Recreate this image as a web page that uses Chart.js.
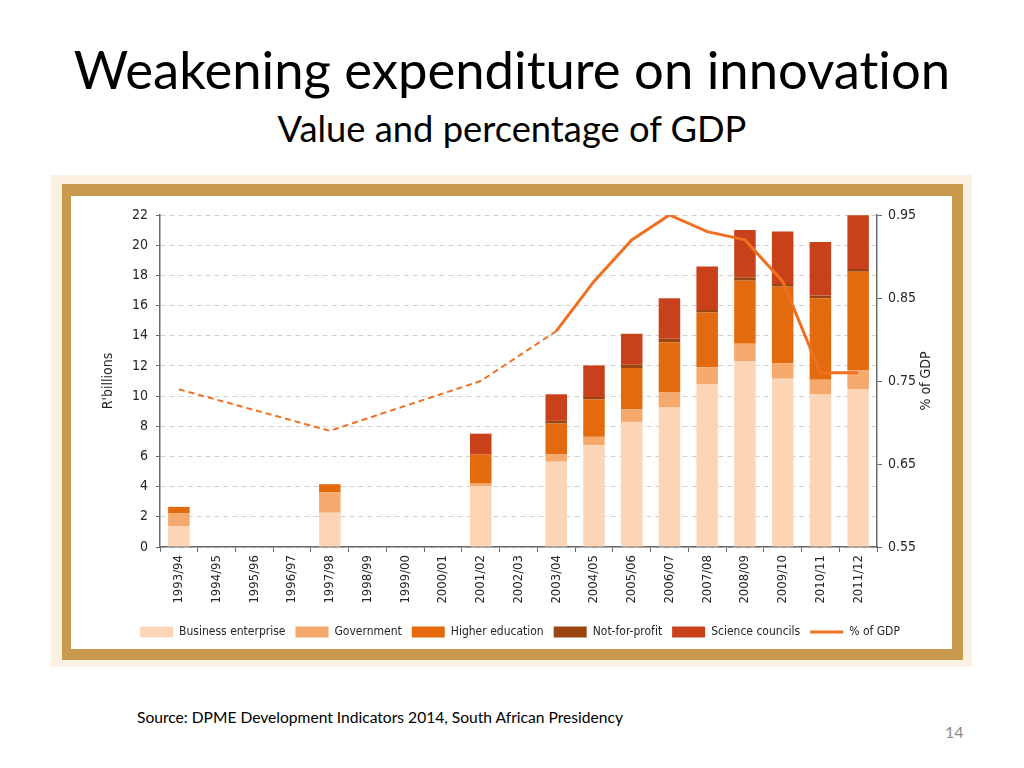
<!DOCTYPE html>
<html>
<head>
<meta charset="utf-8">
<script src="https://cdn.jsdelivr.net/npm/chart.js@4/dist/chart.umd.min.js"></script>
<style>
  body { margin: 0; width: 1024px; height: 768px; background: #fff; position: relative; overflow: hidden; font-family: Lato, 'Open Sans', sans-serif; color: #000; font-variant-ligatures: none; font-feature-settings: "liga" 0; }
  .txt { position: absolute; left: 0; width: 1024px; text-align: center; white-space: nowrap; }
  #title { top: 43px; font-size: 52.6px; line-height: 52.6px; }
  #subtitle { top: 110px; font-size: 36.3px; line-height: 36.3px; }
  #frame-out { position: absolute; left: 51px; top: 175px; width: 921px; height: 492px; background: #fcf0e3; }
  #frame-in { position: absolute; left: 62px; top: 184px; width: 901px; height: 476px; background: #c9994e; }
  #chart-box { position: absolute; left: 71px; top: 196px; width: 881px; height: 453px; background: #fff; }
  #source { position: absolute; left: 137px; top: 709px; font-size: 15.6px; line-height: 16px; white-space: nowrap; }
  #page { position: absolute; left: 945px; top: 724px; font-size: 16px; line-height: 16px; color: #8a8a8a; }
</style>
</head>
<body>
<div id="title" class="txt">Weakening expenditure on innovation</div>
<div id="subtitle" class="txt">Value and percentage of GDP</div>
<div id="frame-out"></div>
<div id="frame-in"></div>
<div id="chart-box"><canvas id="chart" width="881" height="453"></canvas></div>
<div id="source">Source: DPME Development Indicators 2014, South African Presidency</div>
<div id="page">14</div>

<script>
// 年份（財政年度）
const years = ['1993/94', '1994/95', '1995/96', '1996/97', '1997/98', '1998/99', '1999/00', '2000/01',
  '2001/02', '2002/03', '2003/04', '2004/05', '2005/06', '2006/07', '2007/08', '2008/09',
  '2009/10', '2010/11', '2011/12'];

// R'billions per sector
const business   = [1.39, null, null, null, 2.27, null, null, null, 4.03, null, 5.65, 6.75, 8.29, 9.24, 10.78, 12.32, 11.15, 10.10, 10.45];
const government = [0.83, null, null, null, 1.36, null, null, null, 0.17, null, 0.48, 0.55, 0.82, 0.99, 1.14, 1.15, 1.04, 0.99, 1.25];
const higherEd   = [0.44, null, null, null, 0.53, null, null, null, 1.92, null, 2.05, 2.49, 2.75, 3.34, 3.62, 4.18, 5.06, 5.39, 6.54];
const notForProfit = [0, null, null, null, 0, null, null, null, 0, null, 0.18, 0.15, 0.22, 0.23, 0.17, 0.22, 0.18, 0.18, 0.18];
const scienceCouncils = [0, null, null, null, 0, null, null, null, 1.39, null, 1.76, 2.09, 2.05, 2.68, 2.87, 3.13, 3.48, 3.55, 3.57];

// % of GDP
const pctGdp = [0.74, null, null, null, 0.69, null, null, null, 0.75, null, 0.81, 0.87, 0.92, 0.95, 0.93, 0.92, 0.87, 0.76, 0.76];
const pctTicks = [0.55, 0.65, 0.75, 0.85, 0.95];
const solidFrom = years.indexOf('2003/04'); // line is dashed before this year

const narrow = "'DejaVu Sans Condensed', 'DejaVu Sans', sans-serif";
const axisColor = '#6b6b6b';
Chart.defaults.font.family = narrow;
Chart.defaults.color = '#262626';

// 右側標題（由下往上讀）
const rightTitle = {
  id: 'rightTitle',
  afterDraw(chart) {
    const { ctx, chartArea } = chart;
    ctx.save();
    ctx.translate(chartArea.right + 49, (chartArea.top + chartArea.bottom) / 2);
    ctx.rotate(-Math.PI / 2);
    ctx.font = '14px ' + narrow;
    ctx.fillStyle = '#262626';
    ctx.textAlign = 'center';
    ctx.textBaseline = 'middle';
    ctx.fillText('% of GDP', 0, 0);
    ctx.restore();
  }
};

const bar = (label, data, color) => ({
  type: 'bar', label, data, backgroundColor: color, borderWidth: 0,
  yAxisID: 'y', stack: 'rd', order: 1, barPercentage: 0.57, categoryPercentage: 1
});

new Chart(document.getElementById('chart'), {
  data: {
    labels: years,
    datasets: [
      bar('Business enterprise', business, '#fcd5b6'),
      bar('Government', government, '#f6a96c'),
      bar('Higher education', higherEd, '#e36b0e'),
      bar('Not-for-profit', notForProfit, '#9a4512'),
      bar('Science councils', scienceCouncils, '#c9411a'),
      {
        type: 'line', label: '% of GDP', data: pctGdp, yAxisID: 'y1', order: 0,
        borderColor: '#f07021', backgroundColor: '#f07021', borderWidth: 3,
        pointRadius: 0, tension: 0, spanGaps: true,
        segment: {
          borderDash: c => c.p0DataIndex < solidFrom ? [6, 4] : undefined,
          borderWidth: c => c.p0DataIndex < solidFrom ? 2 : 3
        }
      }
    ]
  },
  options: {
    responsive: false,
    animation: false,
    layout: { padding: { left: 25, right: 8, top: 19, bottom: 1 } },
    plugins: {
      tooltip: { enabled: false },
      legend: {
        position: 'bottom',
        labels: {
          usePointStyle: true,
          pointStyleWidth: 33,
          boxHeight: 11,
          padding: 10,
          font: { size: 12 },
          color: '#262626',
          sort: (a, b) => a.datasetIndex - b.datasetIndex,
          generateLabels: chart => {
            const items = Chart.defaults.plugins.legend.labels.generateLabels(chart);
            items.forEach(it => {
              const ds = chart.data.datasets[it.datasetIndex];
              if (ds.type === 'line') {
                it.pointStyle = 'line';
                it.lineWidth = 3;
                it.strokeStyle = ds.borderColor;
                it.lineDash = [];
              } else {
                it.pointStyle = 'rect';
                it.lineWidth = 0;
              }
            });
            return items;
          }
        }
      }
    },
    scales: {
      x: {
        stacked: true,
        grid: { drawOnChartArea: false, offset: true, tickLength: 5, tickColor: axisColor },
        border: { color: axisColor, width: 1.5 },
        ticks: { minRotation: 90, maxRotation: 90, autoSkip: false, padding: 3, font: { size: 13 } },
        afterFit: s => { s.height = 69; }
      },
      y: {
        stacked: true, min: 0, max: 22,
        ticks: { stepSize: 2, padding: 8, font: { size: 14 } },
        grid: { color: '#cfcfcf', tickColor: axisColor, tickLength: 4, tickBorderDash: [] },
        border: { color: axisColor, width: 1.5, dash: [5, 4] },
        title: { display: true, text: "R'billions", font: { size: 14 }, padding: { top: 4, bottom: 4 } },
        afterFit: s => { s.width = 64; }
      },
      y1: {
        position: 'right', min: 0.55, max: 0.95,
        afterBuildTicks: s => { s.ticks = pctTicks.map(v => ({ value: v })); },
        ticks: { padding: 6, font: { size: 14 }, callback: v => v.toFixed(2) },
        grid: { drawOnChartArea: false, tickLength: 5, tickColor: axisColor },
        border: { color: axisColor, width: 1.5 },
        afterFit: s => { s.width = 67; }
      }
    }
  },
  plugins: [rightTitle]
});
</script>
</body>
</html>
